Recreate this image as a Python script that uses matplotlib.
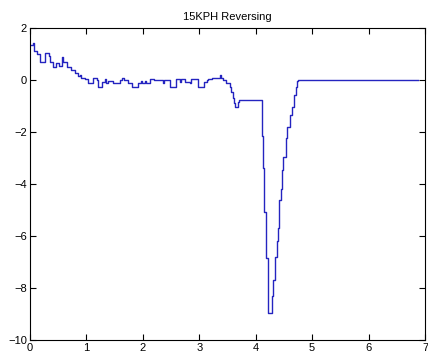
"""15KPH Reversing: step trace redrawn in a MATLAB-like style."""

import matplotlib

matplotlib.use("Agg")

import matplotlib.pyplot as plt  # noqa: E402

TITLE = "15KPH Reversing"

# Start time of each step (s) and the level held until the next step.
step_time = [
    0.00, 0.05, 0.08, 0.13, 0.17, 0.27, 0.33, 0.36, 0.41, 0.47,
    0.51, 0.57, 0.58, 0.66, 0.73, 0.79, 0.85, 0.88, 0.91, 0.97,
    1.03, 1.12, 1.19, 1.21, 1.27, 1.33, 1.35, 1.39, 1.47, 1.60,
    1.63, 1.66, 1.74, 1.80, 1.92, 1.97, 1.99, 2.03, 2.05, 2.13,
    2.19, 2.36, 2.38, 2.49, 2.58, 2.66, 2.68, 2.75, 2.84, 2.86,
    2.98, 3.09, 3.13, 3.16, 3.22, 3.36, 3.38, 3.42, 3.48, 3.54,
    3.57, 3.59, 3.62, 3.64, 3.68, 3.70, 4.11, 4.13, 4.15, 4.18,
    4.21, 4.28, 4.30, 4.34, 4.35, 4.37, 4.39, 4.42, 4.45, 4.47,
    4.49, 4.54, 4.56, 4.60, 4.64, 4.68, 4.71, 4.74, 4.75, 6.88,
]
step_value = [
    1.35, 1.41, 1.13, 1.00, 0.68, 1.05, 0.92, 0.70, 0.51, 0.64,
    0.54, 0.90, 0.68, 0.51, 0.38, 0.28, 0.15, 0.19, 0.06, 0.05,
    -0.13, 0.07, 0.00, -0.26, -0.06, 0.03, -0.13, -0.04, -0.13, 0.00,
    0.09, 0.00, -0.13, -0.26, -0.13, -0.04, -0.13, -0.04, -0.13, 0.04,
    0.00, -0.10, 0.00, -0.26, 0.04, -0.06, 0.04, -0.06, -0.13, 0.04,
    -0.26, -0.06, 0.00, 0.03, 0.06, 0.19, 0.09, 0.00, -0.13, -0.26,
    -0.45, -0.70, -0.90, -1.03, -0.83, -0.75, -2.15, -3.40, -5.07, -6.85,
    -8.97, -8.33, -7.70, -7.30, -6.80, -6.20, -5.70, -4.60, -4.20, -3.46,
    -2.95, -2.23, -1.80, -1.35, -1.03, -0.58, -0.26, -0.03, 0.00, 0.00,
]

x_ticks = [0, 1, 2, 3, 4, 5, 6, 7]
y_ticks = [-10, -8, -6, -4, -2, 0, 2]


def main() -> None:
    plt.rcParams["font.family"] = ["Liberation Sans", "DejaVu Sans"]

    fig = plt.figure(figsize=(4.28, 3.6), dpi=100)
    ax = fig.add_axes([0.070, 0.056, 0.923, 0.866])

    ax.step(step_time, step_value, where="post", color="#2424c0", linewidth=1.0)

    ax.set_xlim(0, 7)
    ax.set_ylim(-10, 2)
    ax.set_xticks(x_ticks)
    ax.set_yticks(y_ticks)
    ax.tick_params(direction="in", top=True, right=True, length=4,
                   width=0.8, labelsize=8, pad=2)
    for spine in ax.spines.values():
        spine.set_linewidth(0.8)
    ax.set_title(TITLE, fontsize=8, pad=6)

    fig.savefig("out.png", dpi=100)
    plt.close(fig)


if __name__ == "__main__":
    main()
